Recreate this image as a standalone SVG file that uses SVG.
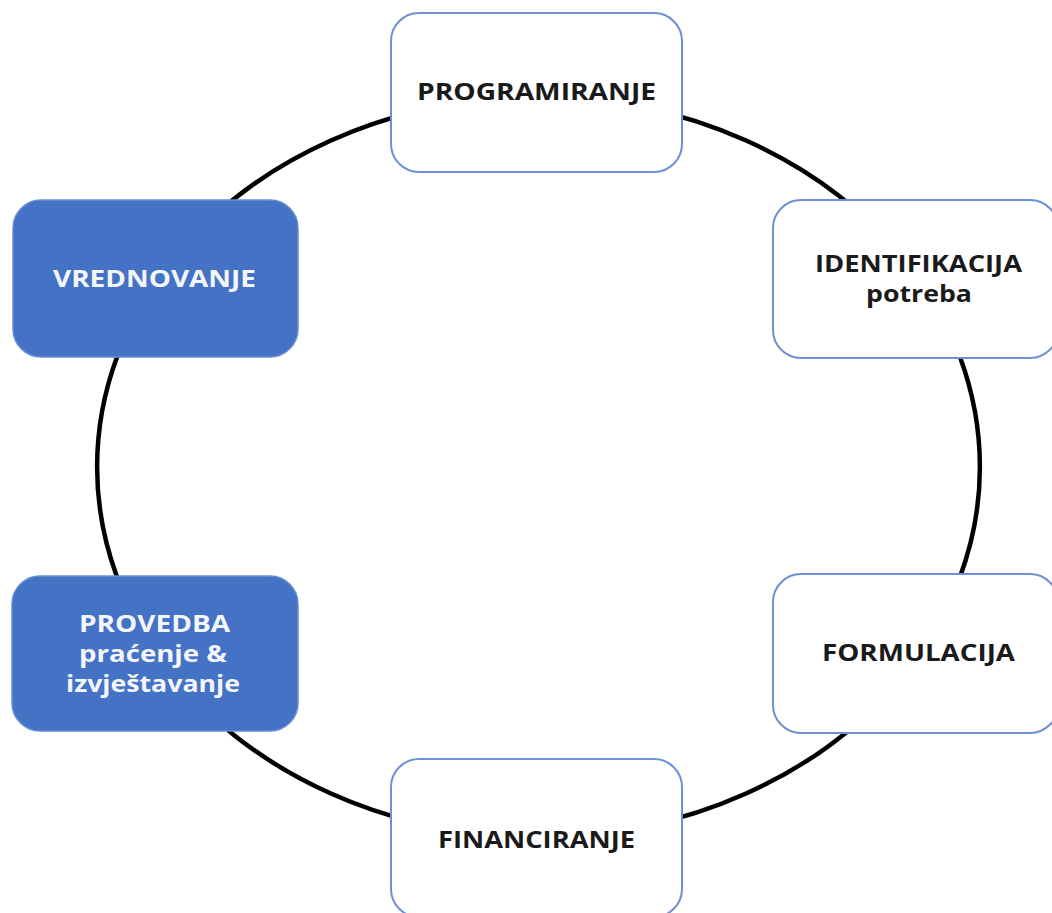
<svg xmlns="http://www.w3.org/2000/svg" width="1052" height="913" viewBox="0 0 1052 913">
  <style>
    .arc { fill: none; stroke: #000; stroke-width: 4.5; }
    .wbox { fill: #fff; stroke: #6d90d4; stroke-width: 2; }
    .bbox { fill: #4472c4; stroke: #6a8dd2; stroke-width: 1.5; }
    .t { font-family: "Open Sans", "Liberation Sans", sans-serif; font-weight: 700; font-size: 24px; text-anchor: middle; }
    .dark { fill: #1a1a1a; }
    .light { fill: #f4f6fb; }
  </style>
  <rect width="1052" height="913" fill="#fff"/>
  <g id="connectors">
    <path class="arc" d="M 538.5 97 A 441.5 370 0 0 1 904.9 260.7"/>
    <path class="arc" d="M 904.9 260.7 A 441.5 370 0 0 1 904.9 673.3"/>
    <path class="arc" d="M 904.9 673.3 A 441.5 370 0 0 1 538.5 837"/>
    <path class="arc" d="M 538.5 837 A 441.5 370 0 0 1 172.1 673.3"/>
    <path class="arc" d="M 172.1 673.3 A 441.5 370 0 0 1 172.1 260.7"/>
    <path class="arc" d="M 172.1 260.7 A 441.5 370 0 0 1 538.5 97"/>
  </g>
  <g id="programiranje">
    <rect class="wbox" x="391" y="13" width="291" height="159" rx="28"/>
    <text class="t dark" x="536.5" y="100" textLength="239" lengthAdjust="spacingAndGlyphs">PROGRAMIRANJE</text>
  </g>
  <g id="identifikacija">
    <rect class="wbox" x="773" y="200" width="285" height="158" rx="28"/>
    <text class="t dark" x="918.5" y="272" textLength="207" lengthAdjust="spacingAndGlyphs">IDENTIFIKACIJA</text>
    <text class="t dark" x="919" y="302" textLength="106" lengthAdjust="spacingAndGlyphs">potreba</text>
  </g>
  <g id="formulacija">
    <rect class="wbox" x="773" y="574" width="285" height="159" rx="28"/>
    <text class="t dark" x="918.5" y="661" textLength="193" lengthAdjust="spacingAndGlyphs">FORMULACIJA</text>
  </g>
  <g id="financiranje">
    <rect class="wbox" x="391" y="759" width="291" height="158" rx="28"/>
    <text class="t dark" x="536.5" y="848" textLength="197" lengthAdjust="spacingAndGlyphs">FINANCIRANJE</text>
  </g>
  <g id="provedba">
    <rect class="bbox" x="12" y="576" width="286" height="155" rx="28"/>
    <text class="t light" x="154.5" y="632" textLength="151" lengthAdjust="spacingAndGlyphs">PROVEDBA</text>
    <text class="t light" x="153" y="662" textLength="148" lengthAdjust="spacingAndGlyphs">praćenje &amp;</text>
    <text class="t light" x="153" y="692" textLength="174" lengthAdjust="spacingAndGlyphs">izvještavanje</text>
  </g>
  <g id="vrednovanje">
    <rect class="bbox" x="13" y="200" width="285" height="157" rx="28"/>
    <text class="t light" x="154.5" y="287" textLength="203" lengthAdjust="spacingAndGlyphs">VREDNOVANJE</text>
  </g>
</svg>
